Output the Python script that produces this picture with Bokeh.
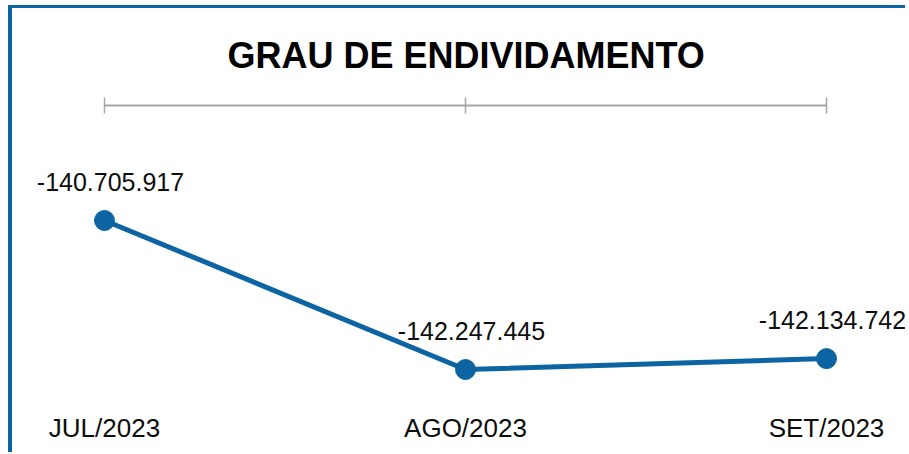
from bokeh.plotting import figure
from bokeh.models import ColumnDataSource, Range1d, LinearAxis, FixedTicker, LabelSet, Title
from bokeh.core.properties import value
from bokeh.embed import file_html
from bokeh.resources import INLINE

# ---- data ----
months = ["JUL/2023", "AGO/2023", "SET/2023"]
values = [-140705917, -142247445, -142134742]
title_text = "GRAU DE ENDIVIDAMENTO"

BLUE = "#0C64A2"
GRAY = "#A6A6A6"
FONT = "Liberation Sans"

xs = list(range(len(months)))
labels = [f"{v:,}".replace(",", ".") for v in values]
src = ColumnDataSource(dict(x=xs, y=values, label=labels))

span = max(values) - min(values)
W, H = 897, 447

p = figure(width=W, height=H, output_backend="svg", toolbar_location=None,
           x_range=Range1d(-92 / 361, (W - 92) / 361),
           y_range=Range1d(min(values) - 0.2483 * span, max(values) + 0.7718 * span),
           x_axis_location=None, y_axis_location=None,
           min_border_left=0, min_border_right=0, min_border_top=97, min_border_bottom=49)
p.grid.visible = False
p.outline_line_color = None
p.background_fill_color = "white"
p.border_fill_color = "white"

p.styles = {"border-left": "4px solid " + BLUE, "border-top": "3px solid " + BLUE,
            "margin-left": "8px", "margin-top": "5px"}

# top axis line (category axis crossing at top) -- added first so it sits next to the frame
top = LinearAxis(ticker=FixedTicker(ticks=xs), bounds=(xs[0], xs[-1]),
                 axis_line_color=GRAY, axis_line_width=2,
                 major_tick_line_color=GRAY, major_tick_line_width=1.5,
                 major_tick_in=8, major_tick_out=8, minor_tick_line_color=None,
                 major_label_overrides={i: "" for i in xs},
                 major_label_text_font_size="10px", major_label_standoff=0)
p.add_layout(top, "above")

# title
p.add_layout(Title(text=title_text, align="left", offset=215, text_font=FONT,
                   text_font_size="36px", text_font_style="bold", text_color="#000000",
                   standoff=44), "above")

# bottom labels
bot = LinearAxis(ticker=FixedTicker(ticks=xs), axis_line_color=None,
                 major_tick_line_color=None, minor_tick_line_color=None,
                 major_label_overrides={i: m for i, m in enumerate(months)},
                 major_label_text_font=FONT, major_label_text_font_size="26px",
                 major_label_text_color="#0d0d0d", major_label_standoff=0)
p.add_layout(bot, "below")

p.line("x", "y", source=src, line_color=BLUE, line_width=5)
p.scatter("x", "y", source=src, size=20, fill_color=BLUE, line_color=BLUE)

p.add_layout(LabelSet(x="x", y="y", text="label", source=src, x_offset=6, y_offset=39,
                      text_align="center", text_baseline="middle", text_font=value(FONT),
                      text_font_size=value("25px"), text_color="#0d0d0d"))

open("out.html", "w").write(file_html(p, INLINE))
